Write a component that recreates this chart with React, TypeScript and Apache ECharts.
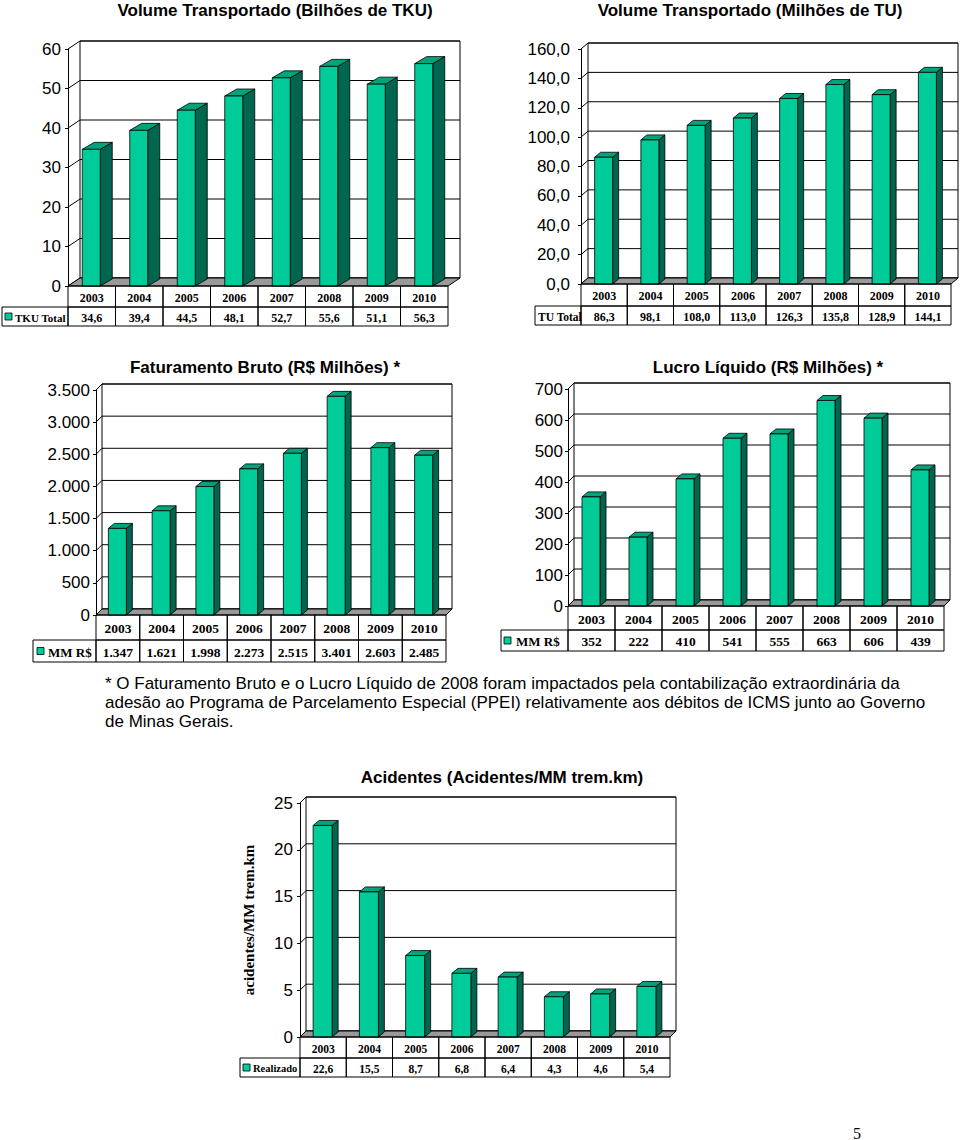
import React, { useEffect, useRef } from "react";
import * as echarts from "echarts";

// ---------- DATA ----------
const years = ["2003", "2004", "2005", "2006", "2007", "2008", "2009", "2010"];
const tkuValues = [34.6, 39.4, 44.5, 48.1, 52.7, 55.6, 51.1, 56.3];
const tuValues = [86.3, 98.1, 108.0, 113.0, 126.3, 135.8, 128.9, 144.1];
const faturamentoValues = [1347, 1621, 1998, 2273, 2515, 3401, 2603, 2485];
const lucroValues = [352, 222, 410, 541, 555, 663, 606, 439];
const acidentesValues = [22.6, 15.5, 8.7, 6.8, 6.4, 4.3, 4.6, 5.4];

const tkuTicks = [0, 10, 20, 30, 40, 50, 60];
const tuTicks = [0, 20, 40, 60, 80, 100, 120, 140, 160];
const fatTicks = [0, 500, 1000, 1500, 2000, 2500, 3000, 3500];
const lucroTicks = [0, 100, 200, 300, 400, 500, 600, 700];
const acidTicks = [0, 5, 10, 15, 20, 25];

const titles = [
  "Volume Transportado (Bilhões de TKU)",
  "Volume Transportado (Milhões de TU)",
  "Faturamento Bruto (R$ Milhões) *",
  "Lucro Líquido (R$ Milhões) *",
  "Acidentes (Acidentes/MM trem.km)",
];
const rowLabels = ["TKU Total", "TU Total", "MM R$", "MM R$", "Realizado"];
const yAxisTitle5 = "acidentes/MM trem.km";
const footnoteLines = [
  "* O Faturamento Bruto e o Lucro Líquido de 2008 foram impactados pela contabilização extraordinária da",
  "adesão ao Programa de Parcelamento Especial (PPEI) relativamente aos débitos de ICMS junto ao Governo",
  "de Minas Gerais.",
];
const pageNumber = "5";

// ---------- FORMATTERS ----------
const fmtPlain = (v: number) => String(v);
const fmtComma1 = (v: number) => v.toFixed(1).replace(".", ",");
const fmtThousands = (v: number) =>
  v >= 1000 ? Math.floor(v / 1000) + "." + String(v % 1000).padStart(3, "0") : String(v);

// ---------- STYLE ----------
const FRONT = "#00cc99";
const TOP = "#00a37a";
const SIDE = "#006650";
const FLOOR = "#999999";
const SANS = "'Liberation Sans', Arial, Helvetica, sans-serif";
const SERIF = "'Liberation Serif', 'Times New Roman', serif";

type Cfg = {
  values: number[];
  ticks: number[];
  fmtAxis: (v: number) => string;
  fmtVal: (v: number) => string;
  title: string;
  titleX: number;
  titleY: number;
  left: number;
  top: number;
  width: number;
  height: number;
  dx: number;
  dy: number;
  bdx: number;
  bdy: number;
  barW: number;
  r1: number;
  r2: number;
  labelX: number;
  label: string;
  key: boolean;
  keyOff: number;
  textOff: number;
  tableFont: number;
  labelFont: number;
  axisFont: number;
  labelMargin: number;
};

const charts: Cfg[] = [
  {
    values: tkuValues, ticks: tkuTicks, fmtAxis: fmtPlain, fmtVal: fmtComma1,
    title: titles[0], titleX: 275, titleY: 10,
    left: 68, top: 49, width: 380, height: 237, dx: 12, dy: 8, bdx: 12, bdy: 7, barW: 18,
    r1: 21, r2: 19, labelX: 2, label: rowLabels[0], key: true, keyOff: 3, textOff: 13,
    tableFont: 12, labelFont: 11, axisFont: 17, labelMargin: 7,
  },
  {
    values: tuValues, ticks: tuTicks, fmtAxis: fmtComma1, fmtVal: fmtComma1,
    title: titles[1], titleX: 750, titleY: 10,
    left: 581, top: 49, width: 370, height: 235, dx: 7, dy: 6, bdx: 6, bdy: 5, barW: 18,
    r1: 22, r2: 19, labelX: 535, label: rowLabels[1], key: false, keyOff: 0, textOff: 3,
    tableFont: 12, labelFont: 11.5, axisFont: 17, labelMargin: 11,
  },
  {
    values: faturamentoValues, ticks: fatTicks, fmtAxis: fmtThousands, fmtVal: fmtThousands,
    title: titles[2], titleX: 265, titleY: 367,
    left: 96, top: 390, width: 350, height: 225, dx: 6, dy: 6, bdx: 6, bdy: 5, barW: 18,
    r1: 25, r2: 22, labelX: 33, label: rowLabels[2], key: true, keyOff: 4, textOff: 15,
    tableFont: 13.5, labelFont: 13, axisFont: 17, labelMargin: 6,
  },
  {
    values: lucroValues, ticks: lucroTicks, fmtAxis: fmtPlain, fmtVal: fmtPlain,
    title: titles[3], titleX: 768, titleY: 367,
    left: 568, top: 389, width: 376, height: 217, dx: 6, dy: 6, bdx: 6, bdy: 5, barW: 18,
    r1: 24, r2: 21, labelX: 501, label: rowLabels[3], key: true, keyOff: 3, textOff: 15,
    tableFont: 13.5, labelFont: 13, axisFont: 17, labelMargin: 5,
  },
  {
    values: acidentesValues, ticks: acidTicks, fmtAxis: fmtPlain, fmtVal: fmtComma1,
    title: titles[4], titleX: 502, titleY: 777,
    left: 300, top: 803, width: 370, height: 234, dx: 6, dy: 6, bdx: 6, bdy: 5, barW: 19,
    r1: 21, r2: 19, labelX: 240, label: rowLabels[4], key: true, keyOff: 3, textOff: 13,
    tableFont: 11.5, labelFont: 10.5, axisFont: 17, labelMargin: 7,
  },
];

function wallRender(c: Cfg) {
  return (params: any, api: any) => {
    const cs = params.coordSys;
    const x0 = cs.x, y0 = cs.y, w = cs.width, h = cs.height;
    const yb = y0 + h;
    const children: any[] = [];
    children.push({
      type: "rect",
      shape: { x: x0 + c.dx, y: y0 - c.dy, width: w, height: h },
      style: { fill: "#ffffff", stroke: "#000", lineWidth: 1 },
    });
    for (const t of c.ticks) {
      const yy = api.coord([0, t])[1];
      children.push({
        type: "line",
        shape: { x1: x0 + c.dx, y1: yy - c.dy, x2: x0 + c.dx + w, y2: yy - c.dy },
        style: { stroke: "#000", lineWidth: 1 },
      });
      children.push({
        type: "line",
        shape: { x1: x0, y1: yy, x2: x0 + c.dx, y2: yy - c.dy },
        style: { stroke: "#000", lineWidth: 1 },
      });
    }
    children.push({
      type: "polygon",
      shape: {
        points: [
          [x0, yb],
          [x0 + w, yb],
          [x0 + w + c.dx, yb - c.dy],
          [x0 + c.dx, yb - c.dy],
        ],
      },
      style: { fill: FLOOR, stroke: "#000", lineWidth: 1 },
    });
    return { type: "group", children };
  };
}

function barRender(c: Cfg) {
  return (params: any, api: any) => {
    const i = api.value(0);
    const v = api.value(1);
    const top = api.coord([i, v]);
    const base = api.coord([i, 0]);
    const xl = top[0] - c.barW / 2 - 0.5;
    const xr = xl + c.barW;
    const yt = top[1];
    const yb = base[1];
    return {
      type: "group",
      children: [
        {
          type: "polygon",
          shape: { points: [[xr, yt], [xr + c.bdx, yt - c.bdy], [xr + c.bdx, yb - c.bdy], [xr, yb]] },
          style: { fill: SIDE, stroke: "#000", lineWidth: 0.8 },
        },
        {
          type: "polygon",
          shape: { points: [[xl, yt], [xl + c.bdx, yt - c.bdy], [xr + c.bdx, yt - c.bdy], [xr, yt]] },
          style: { fill: TOP, stroke: "#000", lineWidth: 0.8 },
        },
        {
          type: "rect",
          shape: { x: xl, y: yt, width: c.barW, height: yb - yt },
          style: { fill: FRONT, stroke: "#000", lineWidth: 0.8 },
        },
      ],
    };
  };
}

function tableRender(c: Cfg) {
  return (params: any, api: any) => {
    const i = api.value(0);
    const v = api.value(1);
    const cs = params.coordSys;
    const cw = cs.width / years.length;
    const xL = cs.x + i * cw;
    const yb = cs.y + cs.height;
    const txt = (text: string, x: number, y: number, align: string, size: number) => ({
      type: "text",
      x,
      y,
      style: {
        text,
        align,
        verticalAlign: "middle",
        textAlign: align,
        textVerticalAlign: "middle",
        fontSize: size,
        fontWeight: "bold",
        fontFamily: SERIF,
        fill: "#000",
      },
    });
    const children: any[] = [
      {
        type: "rect",
        shape: { x: xL, y: yb, width: cw, height: c.r1 },
        style: { fill: "none", stroke: "#000", lineWidth: 1 },
      },
      {
        type: "rect",
        shape: { x: xL, y: yb + c.r1, width: cw, height: c.r2 },
        style: { fill: "none", stroke: "#000", lineWidth: 1 },
      },
      txt(years[i], xL + cw / 2, yb + c.r1 / 2 + 1, "center", c.tableFont),
      txt(c.fmtVal(v), xL + cw / 2, yb + c.r1 + c.r2 / 2 + 1, "center", c.tableFont),
    ];
    if (i === 0) {
      children.push({
        type: "rect",
        shape: { x: c.labelX, y: yb + c.r1, width: cs.x - c.labelX, height: c.r2 },
        style: { fill: "none", stroke: "#000", lineWidth: 1 },
      });
      if (c.key) {
        children.push({
          type: "rect",
          shape: { x: c.labelX + c.keyOff, y: yb + c.r1 + c.r2 / 2 - 3.5, width: 7, height: 7 },
          style: { fill: FRONT, stroke: "#000", lineWidth: 0.8 },
        });
      }
      children.push(txt(c.label, c.labelX + c.textOff, yb + c.r1 + c.r2 / 2 + 1, "left", c.labelFont));
    }
    return { type: "group", children };
  };
}

export default function App() {
  const ref = useRef<HTMLDivElement>(null);
  useEffect(() => {
    if (!ref.current) return;
    const chart = echarts.init(ref.current, null, { renderer: "svg" });

    const grid: any[] = [];
    const xAxis: any[] = [];
    const yAxis: any[] = [];
    const series: any[] = [];
    const graphic: any[] = [];

    charts.forEach((c, gi) => {
      grid.push({
        left: c.left,
        top: c.top,
        width: c.width,
        height: c.height,
        containLabel: false,
        outerBoundsMode: "none",
      });
      xAxis.push({
        type: "category",
        gridIndex: gi,
        data: years,
        axisLine: { show: false },
        axisTick: { show: false },
        axisLabel: { show: false },
        splitLine: { show: false },
      });
      const step = c.ticks[1] - c.ticks[0];
      const y: any = {
        type: "value",
        gridIndex: gi,
        min: c.ticks[0],
        max: c.ticks[c.ticks.length - 1],
        interval: step,
        axisLine: { show: true, lineStyle: { color: "#000", width: 1 } },
        axisTick: { show: true, length: 3, lineStyle: { color: "#000", width: 1 } },
        axisLabel: {
          show: true,
          color: "#000",
          fontSize: c.axisFont,
          fontFamily: SANS,
          margin: c.labelMargin,
          formatter: (v: number) => c.fmtAxis(v),
        },
        splitLine: { show: false },
      };
      if (gi === 4) {
        y.name = yAxisTitle5;
        y.nameLocation = "middle";
        y.nameRotate = 90;
        y.nameGap = 44;
        y.nameTextStyle = { fontSize: 15, fontWeight: "bold", fontFamily: SERIF, color: "#000" };
      }
      yAxis.push(y);

      series.push({
        type: "custom",
        xAxisIndex: gi,
        yAxisIndex: gi,
        z: 1,
        silent: true,
        data: [[0, 0]],
        encode: { x: 0, y: 1 },
        renderItem: wallRender(c),
      });
      series.push({
        type: "custom",
        xAxisIndex: gi,
        yAxisIndex: gi,
        z: 3,
        data: c.values.map((v, i) => [i, v]),
        encode: { x: 0, y: 1 },
        renderItem: barRender(c),
      });
      series.push({
        type: "custom",
        xAxisIndex: gi,
        yAxisIndex: gi,
        z: 4,
        data: c.values.map((v, i) => [i, v]),
        encode: { x: 0, y: 1 },
        renderItem: tableRender(c),
      });

      graphic.push({
        type: "text",
        x: c.titleX,
        y: c.titleY,
        style: {
          text: c.title,
          align: "center",
          verticalAlign: "middle",
          fontSize: 17,
          fontWeight: "bold",
          fontFamily: SANS,
          fill: "#000",
        },
      });
    });

    footnoteLines.forEach((line, k) => {
      graphic.push({
        type: "text",
        x: 105,
        y: 683 + k * 19,
        style: {
          text: line,
          align: "left",
          verticalAlign: "middle",
          fontSize: 17,
          fontFamily: SANS,
          fill: "#000",
        },
      });
    });
    graphic.push({
      type: "text",
      x: 857,
      y: 1133,
      style: {
        text: pageNumber,
        align: "center",
        verticalAlign: "middle",
        fontSize: 16,
        fontFamily: SERIF,
        fill: "#000",
      },
    });

    chart.setOption({
      animation: false,
      backgroundColor: "#ffffff",
      grid,
      xAxis,
      yAxis,
      series,
      graphic,
    });
    return () => chart.dispose();
  }, []);

  return (
    <div
      ref={ref}
      style={{ position: "absolute", left: 0, top: 0, width: 960, height: 1140, background: "#fff" }}
    />
  );
}
